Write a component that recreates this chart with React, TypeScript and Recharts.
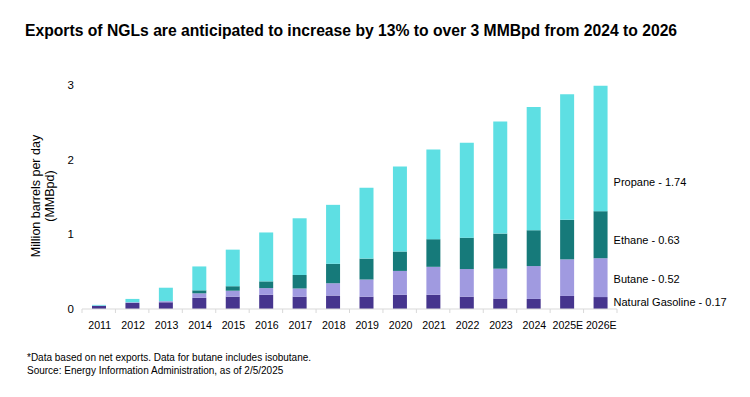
import { BarChart, Bar, XAxis, YAxis, LabelList } from 'recharts'

const years = ['2011', '2012', '2013', '2014', '2015', '2016', '2017', '2018', '2019', '2020', '2021', '2022', '2023', '2024', '2025E', '2026E']
const naturalGasoline = [0.04, 0.08, 0.09, 0.15, 0.165, 0.19, 0.165, 0.18, 0.165, 0.19, 0.19, 0.165, 0.14, 0.135, 0.175, 0.16]
const butane = [0.005, 0.01, 0.015, 0.06, 0.08, 0.09, 0.11, 0.165, 0.23, 0.32, 0.375, 0.37, 0.4, 0.44, 0.49, 0.52]
const ethane = [0, 0, 0, 0.04, 0.06, 0.09, 0.18, 0.26, 0.28, 0.26, 0.37, 0.42, 0.47, 0.48, 0.53, 0.63]
const propane = [0.01, 0.045, 0.18, 0.32, 0.49, 0.655, 0.76, 0.79, 0.95, 1.14, 1.2, 1.27, 1.5, 1.65, 1.68, 1.68]
const endLabels = ['Natural Gasoline - 0.17', 'Butane - 0.52', 'Ethane - 0.63', 'Propane - 1.74']
const yTicks = [0, 1, 2, 3]

const data = years.map((year, i) => ({
  year,
  naturalGasoline: naturalGasoline[i],
  butane: butane[i],
  ethane: ethane[i],
  propane: propane[i],
}))

const FONT = '"Liberation Sans", Arial, sans-serif'
const PLOT_LEFT = 82
const PLOT_RIGHT = 617
const HALF_BAND = (PLOT_RIGHT - PLOT_LEFT) / years.length / 2

function YearTick(props: any) {
  const { x, y, payload, index } = props
  const last = index === years.length - 1
  return (
    <g>
      <line x1={x - HALF_BAND} x2={x - HALF_BAND} y1={y} y2={y + 4} stroke="#d9d9d9" />
      {last && <line x1={x + HALF_BAND} x2={x + HALF_BAND} y1={y} y2={y + 4} stroke="#d9d9d9" />}
      <text x={x + 1} y={y + 20} textAnchor="middle" fontSize={10.6} fill="#000" fontFamily={FONT}>
        {payload.value}
      </text>
    </g>
  )
}

// only the last (2026E) bar gets its value written to the right
function endLabel(text: string, frac: number) {
  return (props: any) => {
    const { x, y, width, height } = props
    if (x + width < PLOT_RIGHT - HALF_BAND) return null
    return (
      <text x={x + width + 6} y={y + height * frac} dominantBaseline="central" fontSize={11} fill="#000" fontFamily={FONT}>
        {text}
      </text>
    )
  }
}

export default function App() {
  return (
    <div style={{ position: 'absolute', left: 0, top: 0, width: 750, height: 397, background: '#fff', fontFamily: FONT, color: '#000' }}>
      <div style={{ position: 'absolute', left: 25, top: 22, fontSize: 15.7, fontWeight: 'bold', whiteSpace: 'nowrap' }}>
        Exports of NGLs are anticipated to increase by 13% to over 3 MMBpd from 2024 to 2026
      </div>
      <div
        style={{
          position: 'absolute',
          left: 43,
          top: 196,
          width: 180,
          fontSize: 12.5,
          lineHeight: '14px',
          textAlign: 'center',
          transform: 'translate(-50%, -50%) rotate(-90deg)',
        }}
      >
        Million barrels per day
        <br />
        (MMBpd)
      </div>
      <div style={{ position: 'absolute', left: 0, top: 0 }}>
        <BarChart width={750} height={397} data={data} margin={{ top: 85, right: 750 - PLOT_RIGHT, left: PLOT_LEFT - 30, bottom: 58 }}>
          <XAxis
            dataKey="year"
            height={30}
            axisLine={{ stroke: '#d9d9d9' }}
            tickLine={false}
            tickSize={0}
            tickMargin={0}
            interval={0}
            tick={<YearTick />}
          />
          <YAxis
            width={30}
            domain={[0, 3]}
            ticks={yTicks}
            axisLine={false}
            tickLine={false}
            tick={{ fontSize: 11.5, fill: '#000', fontFamily: FONT }}
          />
          <Bar dataKey="naturalGasoline" stackId="a" fill="#46358e" barSize={14} isAnimationActive={false}>
            <LabelList dataKey="naturalGasoline" content={endLabel(endLabels[0], 0.45)} />
          </Bar>
          <Bar dataKey="butane" stackId="a" fill="#a09ae0" barSize={14} isAnimationActive={false}>
            <LabelList dataKey="butane" content={endLabel(endLabels[1], 0.54)} />
          </Bar>
          <Bar dataKey="ethane" stackId="a" fill="#167a7a" barSize={14} isAnimationActive={false}>
            <LabelList dataKey="ethane" content={endLabel(endLabels[2], 0.61)} />
          </Bar>
          <Bar dataKey="propane" stackId="a" fill="#5edfe3" barSize={14} isAnimationActive={false}>
            <LabelList dataKey="propane" content={endLabel(endLabels[3], 0.77)} />
          </Bar>
        </BarChart>
      </div>
      <div style={{ position: 'absolute', left: 27, top: 351, fontSize: 10, lineHeight: '13px', whiteSpace: 'nowrap' }}>
        *Data based on net exports. Data for butane includes isobutane.
        <br />
        Source: Energy Information Administration, as of 2/5/2025
      </div>
    </div>
  )
}
